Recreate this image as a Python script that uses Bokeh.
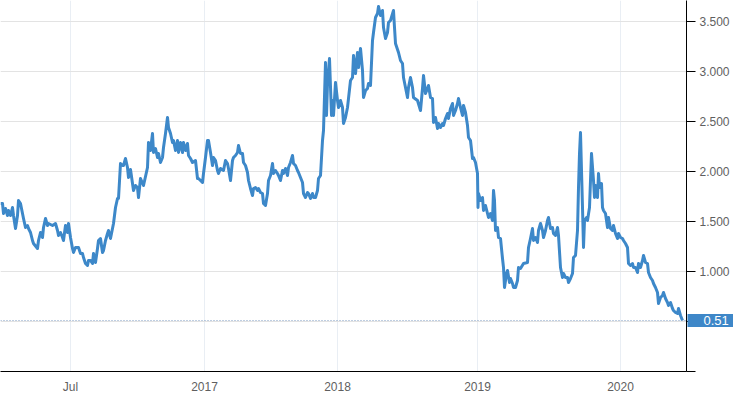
from bokeh.plotting import figure
from bokeh.models import FixedTicker, CustomJSTickFormatter, Span, Label, Range1d
from bokeh.embed import file_html
from bokeh.resources import INLINE

# position along the (trading-session) time axis and price
t = [0, 2, 3, 5, 7, 8, 10, 12, 13, 15, 17, 18, 20, 22, 23, 25, 27, 28, 30, 32, 33, 37, 38, 40, 42, 43, 45, 47, 48,
     52, 55, 57, 58, 60, 62, 63, 65, 67, 68, 70, 72, 73, 75, 78, 80, 82, 83, 85, 87, 88, 90, 92, 93, 95, 97, 98,
     100, 102, 103, 105, 107, 108, 110, 112, 113, 115, 117, 118, 120, 122, 123, 125, 127, 128,
     130, 132, 133, 135, 137, 138, 140, 143, 147, 148, 150, 152, 153, 155, 157, 158, 160, 162, 163, 165, 167, 168,
     170, 172, 173, 175, 177, 178, 180, 182, 183, 185, 187, 188, 190, 192, 195, 197, 198, 200, 202, 203, 205, 207,
     208, 210, 212, 213, 215, 217, 218, 220, 223, 225, 227, 228, 230, 232, 233, 235, 237, 238, 240, 242, 243, 245,
     247, 248, 250, 252, 253, 255, 257, 258,
     260, 262, 263, 265, 267, 268, 270, 272, 273, 275, 277, 278, 280, 282, 283, 285, 287, 288, 290, 292, 293, 295,
     297, 298, 300, 302, 303, 305, 307, 308, 310, 312, 313, 315, 317, 318, 320, 322, 323, 325, 326, 327, 329, 331,
     332, 333, 335, 337, 338, 340, 342, 343, 345, 347, 348, 350, 352, 353, 355, 357, 358, 360, 362, 363, 365, 367,
     368, 370, 372, 373, 375, 377, 378, 380, 382, 383, 385, 387, 388,
     390, 393, 394, 395, 398, 400, 402, 403, 405, 407, 408, 410, 412, 413, 417, 420, 422, 423, 425, 427, 428, 430,
     432, 433, 435, 437, 438, 440, 442, 443, 445, 447, 448, 450, 452, 453, 455, 457, 458, 460, 462, 463, 465, 467,
     468, 470, 472, 473, 475, 477, 477.5, 478, 480, 482, 483, 485, 487, 488, 490, 492, 493, 494, 495, 497, 498, 500,
     502, 503, 504, 506, 507, 509, 510, 512, 513, 515, 517, 518,
     520, 523, 527, 528, 530, 532, 533, 535, 537, 538, 540, 542, 543, 545, 547, 548, 550, 552, 553, 555, 557, 558,
     560, 562, 563, 565, 567, 568, 570, 572, 573, 575, 577, 578, 579, 580, 581, 582, 583, 584, 586, 587, 589, 590,
     591, 593, 594, 595, 597, 598, 599, 601, 602, 603, 605, 607, 608, 610, 612, 613, 615, 617, 618, 620, 622, 623,
     625, 627, 628, 630, 632, 633, 635, 637, 638, 640, 642, 643, 645, 647, 648, 650, 652, 653, 655, 657, 658, 660,
     662, 663, 665, 667, 668, 670, 672, 673, 675, 677, 678, 680, 682]

price = [1.68, 1.68, 1.58, 1.63, 1.56, 1.61, 1.56, 1.64, 1.56, 1.43, 1.56, 1.71, 1.68, 1.58, 1.53, 1.44, 1.46, 1.43,
         1.39, 1.31, 1.28, 1.23, 1.31, 1.39, 1.34, 1.44, 1.53, 1.46, 1.48,
         1.46, 1.48, 1.41, 1.36, 1.39, 1.34, 1.31, 1.46, 1.39, 1.48, 1.34, 1.23, 1.19, 1.24, 1.24, 1.18, 1.18, 1.14,
         1.08, 1.06, 1.11, 1.11, 1.08, 1.18, 1.09, 1.23, 1.31,
         1.33, 1.19, 1.21, 1.31, 1.38, 1.41, 1.33, 1.43, 1.48, 1.64, 1.73, 1.73, 2.08, 2.06, 2.06, 2.13, 2.04, 1.94,
         2.02, 1.88, 1.81, 1.86, 1.84, 1.74, 1.93, 1.86, 2.04, 2.29, 2.21, 2.38, 2.19, 2.23, 2.14, 2.18, 2.09, 2.14,
         2.24, 2.38, 2.54, 2.44,
         2.38, 2.29, 2.31, 2.21, 2.31, 2.19, 2.29, 2.19, 2.29, 2.21, 2.28, 2.16, 2.13, 2.09, 2.11, 1.93, 1.93, 1.91,
         1.89, 1.98, 2.14, 2.31,
         2.31, 2.19, 2.06, 2.14, 2.11, 2.01, 1.98, 2.03, 2.01, 2.11, 2.08, 2.03, 1.91, 2.11, 2.14, 2.16, 2.19, 2.26,
         2.18, 2.18, 2.09, 2.06,
         1.99, 1.91, 1.83, 1.76, 1.83, 1.84, 1.81, 1.83,
         1.79, 1.78, 1.68, 1.66, 1.78, 1.91, 1.96, 2.08, 1.98, 2.01, 1.98, 1.96, 1.91, 2.01, 1.98, 2.03, 1.96, 2.04,
         2.09, 2.16, 2.08, 2.06,
         2.01, 1.99, 1.94, 1.89, 1.78, 1.74, 1.79, 1.78, 1.73, 1.78, 1.74, 1.74, 1.81, 1.93, 1.96, 2.31, 2.41, 3.09,
         2.56, 2.88, 3.13, 2.56,
         2.71, 2.56, 2.89, 2.71, 2.64, 2.71, 2.64, 2.48, 2.54, 2.64, 2.73, 2.91, 2.94, 3.16, 2.98, 3.19, 3.04, 3.23,
         3.01, 2.74, 2.81, 2.83,
         2.88, 2.86, 3.31, 3.39, 3.54, 3.58, 3.65, 3.56, 3.61, 3.44, 3.33, 3.39, 3.49,
         3.51, 3.61, 3.44, 3.28, 3.19, 3.11, 3.08, 2.94, 2.84, 2.74, 2.84, 2.94, 2.84, 2.74, 2.71, 2.61, 2.83, 2.96,
         2.78, 2.83, 2.86, 2.74,
         2.73, 2.49, 2.54, 2.43, 2.48, 2.44, 2.48, 2.46, 2.53, 2.58, 2.53, 2.63, 2.68, 2.56, 2.61, 2.68, 2.73, 2.64,
         2.56, 2.66, 2.59, 2.46,
         2.34, 2.31, 2.13, 2.14, 2.09, 1.98, 1.64, 1.78, 1.71, 1.74, 1.61, 1.66, 1.58, 1.54, 1.58, 1.51, 1.81, 1.71,
         1.41, 1.44, 1.34, 1.33,
         1.13, 1.04, 0.84, 0.98, 1.01, 0.89, 0.93, 0.88, 0.84, 0.84, 0.91, 1.04,
         1.03, 1.08, 1.09, 1.24, 1.33, 1.43, 1.31, 1.34, 1.29, 1.41, 1.48, 1.41, 1.34, 1.41, 1.51, 1.54, 1.43, 1.44,
         1.38, 1.36, 1.44, 1.36,
         1.04, 0.94, 0.98, 0.94, 0.94, 0.89, 0.93, 0.98, 1.14, 1.16, 1.41, 1.84, 2.18, 2.39, 2.01, 1.64, 1.24, 1.51,
         1.54, 1.51, 1.64, 1.91,
         2.18, 1.91, 1.74, 1.86, 1.74, 1.98, 1.84, 1.88, 1.64, 1.61, 1.58, 1.44, 1.54, 1.43, 1.41, 1.46, 1.38, 1.33,
         1.38, 1.34, 1.33, 1.31,
         1.28, 1.24, 1.08, 1.06, 1.08, 1.04, 1.04, 0.99, 1.08, 1.04, 1.11, 1.16, 1.09, 1.08, 0.99, 0.94, 0.91, 0.88,
         0.84, 0.79, 0.68, 0.74,
         0.76, 0.79, 0.73, 0.69, 0.66, 0.69, 0.63, 0.61, 0.59, 0.58, 0.63, 0.56, 0.51]

x_tick_pos = [70, 204, 337, 477, 620]
x_tick_labels = ["Jul", "2017", "2018", "2019", "2020"]
y_ticks = [0, 0.5, 1.0, 1.5, 2.0, 2.5, 3.0, 3.5]
last_value = 0.51
last_label = "0.51"

LINE = "#3d88c9"
FONT = "Liberation Sans"
HIDDEN_LEFT = 80  # off-screen left border that holds the last-value tag's layout slot

p = figure(width=733 + HIDDEN_LEFT, height=396, output_backend="svg", toolbar_location=None,
           x_range=Range1d(0, 686), y_range=Range1d(0, 3.71),
           y_axis_location="right", min_border_left=HIDDEN_LEFT, min_border_top=0,
           min_border_right=47, min_border_bottom=25)
p.margin = (0, 0, 0, -HIDDEN_LEFT)
p.outline_line_color = None
p.background_fill_color = "white"
p.border_fill_color = "white"

p.line(t, price, line_color=LINE, line_width=3, line_join="round")

# x axis
xa = p.xaxis[0]
xa.ticker = FixedTicker(ticks=x_tick_pos)
xa.major_label_overrides = {k: v for k, v in zip(x_tick_pos, x_tick_labels)}
xa.major_tick_out = 0
xa.major_tick_in = 0
xa.minor_tick_out = 0
xa.minor_tick_in = 0
xa.axis_line_color = "black"
xa.major_label_standoff = 8
xa.major_label_text_font = FONT
xa.major_label_text_font_size = "12px"
xa.major_label_text_color = "#5f5f5f"

# y axis (right)
ya = p.yaxis[0]
ya.ticker = FixedTicker(ticks=y_ticks)
ya.formatter = CustomJSTickFormatter(code="return tick < 0.75 ? '' : tick.toFixed(3);")
ya.major_tick_out = 9
ya.major_tick_in = 0
ya.minor_tick_out = 0
ya.minor_tick_in = 0
ya.axis_line_color = "black"
ya.major_tick_line_color = "black"
ya.major_label_standoff = 4
ya.major_label_text_font = FONT
ya.major_label_text_font_size = "12px"
ya.major_label_text_color = "#5f5f5f"

p.xgrid.grid_line_color = "#e9eef4"
p.ygrid.grid_line_color = "#e3e3e3"

p.add_layout(Span(location=last_value, dimension="width", line_color="#7f9dc2",
                  line_width=1, line_dash="1 2"))

# last-value tag: lives in a side panel so it is not clipped to the frame
p.add_layout(Label(x=686, y=last_value, text=last_label, x_offset=1,
                   text_color="white", text_font=FONT, text_font_size="13px",
                   text_baseline="middle", text_align="left",
                   background_fill_color="#3e87c8",
                   padding=dict(left=16, right=5, top=2, bottom=2)), "left")

open("out.html", "w").write(file_html(p, INLINE))
